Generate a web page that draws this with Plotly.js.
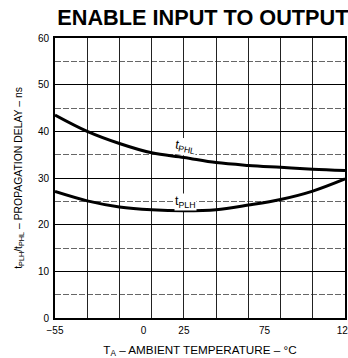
<!DOCTYPE html>
<html>
<head>
<meta charset="utf-8">
<script src="https://cdn.plot.ly/plotly-3.0.1.min.js"></script>
<style>html,body{margin:0;padding:0;background:#fff;}#chart{width:348px;height:358px;}</style>
</head>
<body>
<div id="chart"></div>
<script>
// Data
var temps = [-55, -35, -15, 5, 25, 45, 65, 85, 105, 125];
var tPHL  = [43.5, 40.0, 37.4, 35.4, 34.4, 33.3, 32.7, 32.3, 31.9, 31.6];
var tPLH  = [27.1, 25.1, 23.8, 23.2, 23.0, 23.2, 24.2, 25.4, 27.2, 29.8];
var xTickVals = [-55, 0, 25, 75, 125];
var xTickText = ['\u221255', '0', '25', '75', '125'];
var yTickVals = [0, 10, 20, 30, 40, 50, 60];
var labelPHL = {x: 26, y: 36.6, text: 't<sub>PHL</sub>'};
var labelPLH = {x: 26, y: 24.9, text: 't<sub>PLH</sub>'};

var FONT = 'Liberation Sans, Arial, sans-serif';

var traces = [
  {x: temps, y: tPHL, mode: 'lines', line: {color: '#000', width: 3, shape: 'spline'}, hoverinfo: 'skip', showlegend: false},
  {x: temps, y: tPLH, mode: 'lines', line: {color: '#000', width: 3, shape: 'spline'}, hoverinfo: 'skip', showlegend: false},
  {x: [temps[0]], y: [null], xaxis: 'x2', mode: 'markers', hoverinfo: 'skip', showlegend: false}
];

var layout = {
  width: 348, height: 358,
  margin: {l: 55, r: 3, t: 38, b: 40},
  paper_bgcolor: '#fff', plot_bgcolor: '#fff',
  font: {family: FONT, color: '#000', size: 10},
  title: {
    text: 'ENABLE INPUT TO OUTPUT',
    font: {family: FONT, size: 21.7, weight: 'bold', color: '#000'},
    x: 0.51, xref: 'paper', xanchor: 'center',
    y: 0.95, yref: 'container', yanchor: 'middle'
  },
  xaxis: {
    range: [-55, 125],
    tick0: -55, dtick: 20, tickmode: 'linear',
    showticklabels: false, ticks: '',
    showgrid: true, gridcolor: '#222', gridwidth: 1,
    showline: true, linecolor: '#000', linewidth: 2, mirror: true,
    zeroline: false, fixedrange: true
  },
  xaxis2: {
    overlaying: 'x', anchor: 'y', side: 'bottom',
    range: [-55, 125],
    tickmode: 'array', tickvals: xTickVals, ticktext: xTickText,
    ticks: '', showgrid: false, showline: false, zeroline: false,
    ticklabeloverflow: 'allow', ticklabelstandoff: 5,
    tickfont: {family: FONT, size: 10, color: '#000'},
    title: {text: 'T<sub>A</sub> \u2013 AMBIENT TEMPERATURE \u2013 \u00B0C', font: {family: FONT, size: 11.7, color: '#000'}, standoff: 13},
    fixedrange: true
  },
  yaxis: {
    range: [0, 60],
    tickmode: 'array', tickvals: yTickVals,
    ticks: '', ticklabelstandoff: 2,
    tickfont: {family: FONT, size: 10, color: '#000'},
    showgrid: true, gridcolor: '#000', gridwidth: 1,
    minor: {dtick: 5, tick0: 0, showgrid: true, gridcolor: '#666', gridwidth: 1, griddash: '6px,2px'},
    showline: true, linecolor: '#000', linewidth: 2, mirror: true,
    zeroline: false,
    title: {text: 't<sub>PLH</sub>/t<sub>PHL</sub> \u2013 PROPAGATION DELAY \u2013 ns', font: {family: FONT, size: 10.4, color: '#000'}, standoff: 13},
    fixedrange: true
  },
  annotations: [
    {x: labelPHL.x, y: labelPHL.y, xref: 'x', yref: 'y', text: labelPHL.text, showarrow: false,
     font: {family: FONT, size: 12.5, color: '#000'}, bgcolor: '#fff', textangle: 10, borderpad: 0},
    {x: labelPLH.x, y: labelPLH.y, xref: 'x', yref: 'y', text: labelPLH.text, showarrow: false,
     font: {family: FONT, size: 12.5, color: '#000'}, bgcolor: '#fff', borderpad: 0}
  ]
};

Plotly.newPlot('chart', traces, layout, {staticPlot: true, displayModeBar: false});
</script>
</body>
</html>
